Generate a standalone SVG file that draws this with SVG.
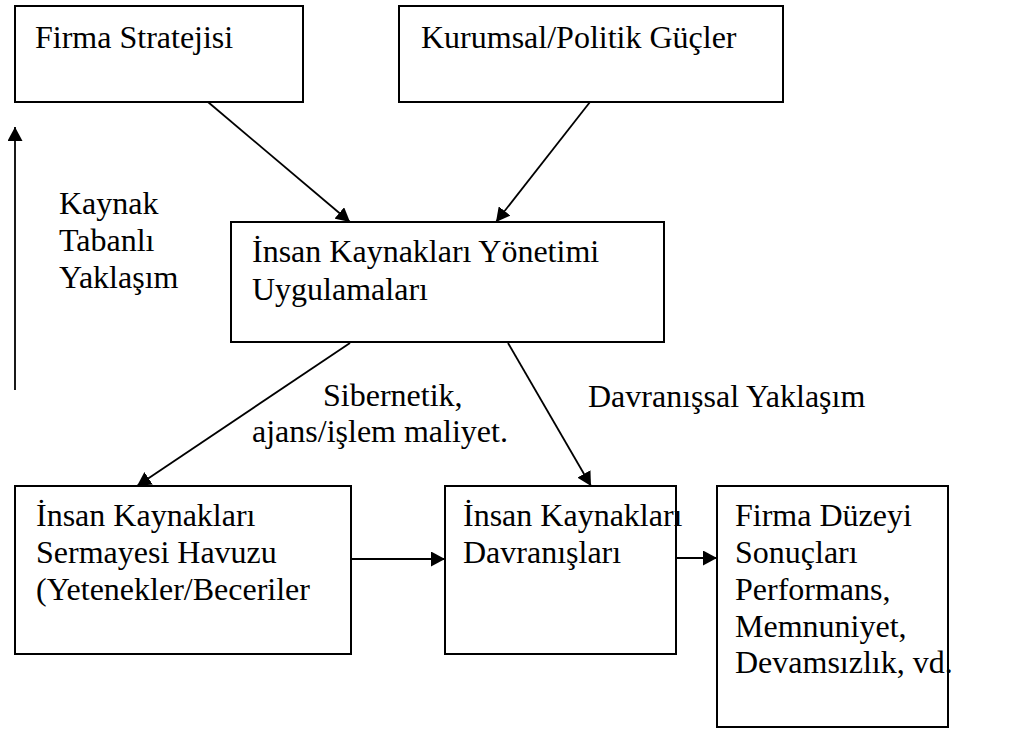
<svg xmlns="http://www.w3.org/2000/svg" width="1029" height="729" viewBox="0 0 1029 729">
<style>
.box{fill:#fff;stroke:#000;stroke-width:2}
text{font-family:'Liberation Serif','Times New Roman','DejaVu Serif',serif;font-size:32px;fill:#000}
.c{stroke:#000;stroke-width:1.8;fill:none;marker-end:url(#ah)}
</style>
<defs>
<marker id="ah" markerUnits="userSpaceOnUse" markerWidth="14" markerHeight="15" refX="14" refY="7.5" orient="auto">
<path d="M0,0 L14,7.5 L0,15 z" fill="#000"/>
</marker>
</defs>
<rect width="1029" height="729" fill="#fff"/>
<g id="connectors">
<line class="c" x1="208" y1="102" x2="350" y2="222"/>
<line class="c" x1="590" y1="102" x2="496" y2="222"/>
<line class="c" x1="350" y1="343" x2="137" y2="486"/>
<line class="c" x1="508" y1="343" x2="591" y2="486"/>
<line class="c" x1="351" y1="559" x2="445" y2="559"/>
<line class="c" x1="676" y1="558" x2="717" y2="558"/>
<line class="c" x1="15" y1="390" x2="15" y2="127"/>
</g>
<g id="firma-stratejisi">
<rect class="box" x="15" y="6" width="288" height="96"/>
<text x="35" y="48">Firma Stratejisi</text>
</g>
<g id="kurumsal">
<rect class="box" x="399" y="6" width="384" height="96"/>
<text x="421" y="48">Kurumsal/Politik Güçler</text>
</g>
<g id="iky-uygulamalari">
<rect class="box" x="231" y="222" width="433" height="120"/>
<text x="252" y="262">İnsan Kaynakları Yönetimi</text>
<text x="252" y="300">Uygulamaları</text>
</g>
<g id="kaynak-label">
<text x="59" y="214">Kaynak</text>
<text x="59" y="251">Tabanlı</text>
<text x="59" y="288">Yaklaşım</text>
</g>
<g id="sibernetik-label">
<text x="323" y="406">Sibernetik,</text>
<text x="252" y="442">ajans/işlem maliyet.</text>
</g>
<g id="davranissal-label">
<text x="588" y="407">Davranışsal Yaklaşım</text>
</g>
<g id="sermaye-havuzu">
<rect class="box" x="15" y="486" width="336" height="168"/>
<text x="36" y="526">İnsan Kaynakları</text>
<text x="36" y="563">Sermayesi Havuzu</text>
<text x="36" y="600">(Yetenekler/Beceriler</text>
</g>
<g id="ik-davranislari">
<rect class="box" x="445" y="486" width="231" height="168"/>
<text x="463" y="526">İnsan Kaynakları</text>
<text x="463" y="563">Davranışları</text>
</g>
<g id="firma-duzeyi">
<rect class="box" x="717" y="486" width="231" height="241"/>
<text x="735" y="526">Firma Düzeyi</text>
<text x="735" y="563">Sonuçları</text>
<text x="735" y="600">Performans,</text>
<text x="735" y="637">Memnuniyet,</text>
<text x="735" y="673">Devamsızlık, vd.</text>
</g>
</svg>
